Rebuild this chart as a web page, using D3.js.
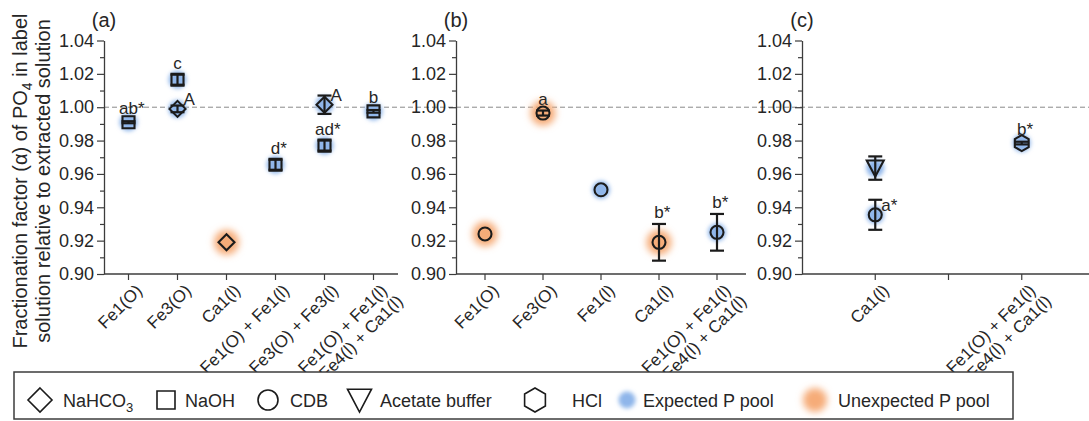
<!DOCTYPE html>
<html>
<head>
<meta charset="utf-8">
<script src="https://cdn.jsdelivr.net/npm/d3@7"></script>
<style>
  body { margin: 0; background: #fff; }
  svg { display: block; font-family: "Liberation Sans", Arial, sans-serif; }
</style>
</head>
<body>
<svg id="chart" width="1089" height="421"></svg>
<script>
// ---- data -------------------------------------------------------------
const yMajorTicks = [0.90, 0.92, 0.94, 0.96, 0.98, 1.00, 1.02, 1.04];
const yMinorTicks = [0.91, 0.93, 0.95, 0.97, 0.99, 1.01, 1.03];

const MIX = "Fe1(O) + Fe1(l)\n+ Fe4(l) + Ca1(l)";
const catsA = ["Fe1(O)", "Fe3(O)", "Ca1(l)", "Fe1(O) + Fe1(l)", "Fe3(O) + Fe3(l)", MIX];
const catsB = ["Fe1(O)", "Fe3(O)", "Fe1(l)", "Ca1(l)", MIX];
const catsC = ["Ca1(l)", "", MIX];

// (a) NaOH and NaHCO3 extractions
const naohA = [
  { cat: "Fe1(O)",          value: 0.991,  err: 0.0006, pool: "expected", label: "ab*" },
  { cat: "Fe3(O)",          value: 1.0165, err: 0.003,  pool: "expected", label: "c" },
  { cat: "Fe1(O) + Fe1(l)", value: 0.9655, err: 0.003,  pool: "expected", label: "d*" },
  { cat: "Fe3(O) + Fe3(l)", value: 0.977,  err: 0.003,  pool: "expected", label: "ad*" },
  { cat: MIX,               value: 0.9975, err: 0.0008, pool: "expected", label: "b" }
];
const nahco3A = [
  { cat: "Fe3(O)",          value: 0.999,  err: 0.002,  pool: "expected",   label: "A" },
  { cat: "Ca1(l)",          value: 0.919,  err: 0,      pool: "unexpected", label: "" },
  { cat: "Fe3(O) + Fe3(l)", value: 1.0015, err: 0.0055, pool: "expected",   label: "A" }
];
// (b) CDB extraction
const cdbB = [
  { cat: "Fe1(O)", value: 0.924,  err: 0,      pool: "unexpected", label: "" },
  { cat: "Fe3(O)", value: 0.9965, err: 0.0015, pool: "unexpected", label: "a" },
  { cat: "Fe1(l)", value: 0.9505, err: 0,      pool: "expected",   label: "" },
  { cat: "Ca1(l)", value: 0.919,  err: 0.011,  pool: "unexpected", label: "b*" },
  { cat: MIX,      value: 0.925,  err: 0.011,  pool: "expected",   label: "b*" }
];
// (c) acetate buffer, CDB and HCl extractions
const acetateC = [
  { cat: "Ca1(l)", value: 0.9635, err: 0.007, pool: "expected", label: "" }
];
const cdbC = [
  { cat: "Ca1(l)", value: 0.9355, err: 0.009, pool: "expected", label: "a*" }
];
const hclC = [
  { cat: MIX, value: 0.9785, err: 0.0008, pool: "expected", label: "b*" }
];

const legendItems = [
  { kind: "NaHCO3", text: "NaHCO", sub: "3" },
  { kind: "NaOH", text: "NaOH" },
  { kind: "CDB", text: "CDB" },
  { kind: "Acetate", text: "Acetate buffer" },
  { kind: "HCl", text: "HCl" },
  { kind: "expected", text: "Expected P pool" },
  { kind: "unexpected", text: "Unexpected P pool" }
];

// ---- setup ------------------------------------------------------------
const svg = d3.select("#chart");
const INK = "#1b1b1b";
const AXIS = "#3c3c3c";
const TEXT = "#262626";
const BLUE = "#8fb6ea";
const ORANGE = "#f6ac78";

const defs = svg.append("defs");
function blurFilter(id, sd) {
  defs.append("filter").attr("id", id)
    .attr("x", "-150%").attr("y", "-150%").attr("width", "400%").attr("height", "400%")
    .append("feGaussianBlur").attr("stdDeviation", sd);
}
blurFilter("glowBlue", 2.2);
blurFilter("glowOrange", 3.8);

const y = d3.scaleLinear().domain([0.90, 1.04]).range([274, 40.5]);
const axisY = y(0.90);

// marker outlines, centred on the origin
const shapes = {
  NaHCO3: r => `M0,${-r}L${r},0L0,${r}L${-r},0Z`,
  NaOH: r => `M${-r},${-r}H${r}V${r}H${-r}Z`,
  CDB: r => `M${-r},0A${r},${r} 0 1,0 ${r},0A${r},${r} 0 1,0 ${-r},0Z`,
  Acetate: r => `M${-r},${-r * 0.9}L${r},${-r * 0.9}L0,${r}Z`,
  HCl: r => {
    const pts = d3.range(6).map(k => {
      const a = (-90 + 60 * k) * Math.PI / 180;
      return [r * Math.cos(a), r * Math.sin(a)];
    });
    return "M" + pts.map(p => p.join(",")).join("L") + "Z";
  }
};
const markerSize = { NaHCO3: 8, NaOH: 6, CDB: 6.5, Acetate: 8.5, HCl: 8 };

// dashed reference at alpha = 1
svg.append("line")
  .attr("x1", 104).attr("x2", 1089)
  .attr("y1", y(1.00)).attr("y2", y(1.00))
  .attr("stroke", "#8a8a8a").attr("stroke-width", 1)
  .attr("stroke-dasharray", "5,3");

const panels = [
  { name: "(a)", cats: catsA, range: [104, 398], pad: 0.5, lineEnd: 398,
    series: [{ method: "NaOH", data: naohA }, { method: "NaHCO3", data: nahco3A }] },
  { name: "(b)", cats: catsB, range: [456, 746], pad: 0.5, lineEnd: 746,
    series: [{ method: "CDB", data: cdbB }] },
  { name: "(c)", cats: catsC, range: [802, 1095], pad: 1, lineEnd: 1089,
    series: [{ method: "Acetate", data: acetateC }, { method: "CDB", data: cdbC }, { method: "HCl", data: hclC }] }
];

panels.forEach(p => {
  const x = d3.scalePoint().domain(p.cats).range(p.range).padding(p.pad);
  const x0 = p.range[0];
  const g = svg.append("g");

  // y axis
  const yAxis = g.append("g").attr("transform", `translate(${x0},0)`)
    .call(d3.axisLeft(y).tickValues(yMajorTicks).tickFormat(d3.format(".2f"))
      .tickSize(7).tickPadding(3).tickSizeOuter(0));
  yAxis.selectAll(".domain").attr("stroke", AXIS).attr("stroke-width", 1.3);
  yAxis.selectAll(".tick line").attr("stroke", AXIS).attr("stroke-width", 1.2);
  yAxis.selectAll(".tick text").attr("fill", TEXT).attr("font-size", 18)
    .attr("font-family", "Liberation Sans, Arial, sans-serif");
  const yMinor = g.append("g").attr("transform", `translate(${x0},0)`)
    .call(d3.axisLeft(y).tickValues(yMinorTicks).tickFormat("").tickSize(4).tickSizeOuter(0));
  yMinor.select(".domain").remove();
  yMinor.selectAll(".tick line").attr("stroke", AXIS).attr("stroke-width", 1.2);

  // x axis line and category ticks
  g.append("line").attr("x1", x0).attr("x2", p.lineEnd)
    .attr("y1", axisY).attr("y2", axisY)
    .attr("stroke", AXIS).attr("stroke-width", 1.3);
  const ticks = g.selectAll(".xtick").data(p.cats).enter().append("g")
    .attr("transform", d => `translate(${x(d)},${axisY})`);
  ticks.append("line").attr("y2", 6).attr("stroke", AXIS).attr("stroke-width", 1.2);

  // rotated category labels, lines centred on each other
  ticks.each(function (d) {
    if (!d) return;
    const lines = d.split("\n");
    const lab = d3.select(this).append("g")
      .attr("transform", "translate(6,9) rotate(-45)");
    const texts = lines.map((s, i) => lab.append("text")
      .attr("text-anchor", "end")
      .attr("font-size", 17).attr("fill", TEXT)
      .attr("dy", (0.72 + i * 1.1) + "em")
      .text(s));
    const widths = texts.map(t => t.node().getComputedTextLength());
    const wMax = d3.max(widths);
    texts.forEach((t, i) => t.attr("x", -(wMax - widths[i]) / 2 + (wMax - widths[0]) / 2));
  });

  // panel letter
  g.append("text").attr("x", x0).attr("y", 27).attr("text-anchor", "middle")
    .attr("font-size", 20).attr("fill", TEXT).text(p.name);

  // glows, error bars, markers, letters
  const catCount = d3.rollup(p.series.flatMap(s => s.data), v => v.length, d => d.cat);
  const seen = new Set();
  p.series.forEach(s => {
    s.data.forEach(d => {
      const cx = x(d.cat), cy = y(d.value);
      d.cx = cx; d.cy = cy;
      const blue = d.pool === "expected";
      g.append("circle").attr("cx", cx).attr("cy", cy)
        .attr("r", blue ? 9 : 12.5)
        .attr("fill", blue ? BLUE : ORANGE)
        .attr("filter", `url(#${blue ? "glowBlue" : "glowOrange"})`);
    });
  });
  p.series.forEach(s => {
    s.data.forEach(d => {
      if (d.err > 0) {
        const yt = y(d.value + d.err), yb = y(d.value - d.err);
        const eb = g.append("g").attr("stroke", INK).attr("stroke-width", 2.2);
        eb.append("line").attr("x1", d.cx).attr("x2", d.cx).attr("y1", yt).attr("y2", yb);
        eb.append("line").attr("x1", d.cx - 7).attr("x2", d.cx + 7).attr("y1", yt).attr("y2", yt);
        eb.append("line").attr("x1", d.cx - 7).attr("x2", d.cx + 7).attr("y1", yb).attr("y2", yb);
      }
      g.append("path")
        .attr("transform", `translate(${d.cx},${d.cy})`)
        .attr("d", shapes[s.method](markerSize[s.method]))
        .attr("fill", "none").attr("stroke", INK).attr("stroke-width", 2.1)
        .attr("stroke-linejoin", "miter");
    });
  });
  p.series.forEach(s => {
    s.data.forEach(d => {
      const shared = catCount.get(d.cat) > 1;
      const beside = shared && seen.has(d.cat);
      seen.add(d.cat);
      if (!d.label) return;
      const letters = d.label.replace("*", "");
      const star = d.label.includes("*");
      const t = g.append("text").attr("font-size", 17).attr("fill", TEXT);
      t.append("tspan").text(letters);
      if (star) t.append("tspan").text("*");
      if (beside) {
        t.attr("x", d.cx + 6).attr("y", d.cy - 4);
      } else {
        const w = t.select("tspan").node().getComputedTextLength();
        const top = Math.min(d.cy - 8, y(d.value + d.err) - 6);
        t.attr("x", d.cx - w / 2).attr("y", top);
      }
    });
  });
});

// axis title
const title = svg.append("text")
  .attr("transform", "translate(27,181) rotate(-90)")
  .attr("text-anchor", "middle").attr("font-size", 20).attr("fill", TEXT);
title.append("tspan").text("Fractionation factor (α) of PO");
title.append("tspan").attr("font-size", 14).attr("dy", 5).text("4");
title.append("tspan").attr("dy", -5).text(" in label");
svg.append("text")
  .attr("transform", "translate(50,181) rotate(-90)")
  .attr("text-anchor", "middle").attr("font-size", 20).attr("fill", TEXT)
  .text("solution relative to extracted solution");

// ---- legend -----------------------------------------------------------
const lg = svg.append("g");
lg.append("rect").attr("x", 14).attr("y", 372).attr("width", 999).attr("height", 47)
  .attr("fill", "#fff").attr("stroke", AXIS).attr("stroke-width", 1.5);
const legendX = { NaHCO3: 40, NaOH: 166, CDB: 268, Acetate: 359.5, HCl: 535, expected: 627, unexpected: 815 };
const legendTextX = { NaHCO3: 63, NaOH: 185, CDB: 290, Acetate: 380, HCl: 572, expected: 643, unexpected: 838 };
const legendSize = { NaHCO3: 12, NaOH: 9, CDB: 10, Acetate: 12, HCl: 12 };
const ly = 400;
legendItems.forEach(it => {
  const cx = legendX[it.kind];
  if (it.kind === "expected" || it.kind === "unexpected") {
    const blue = it.kind === "expected";
    lg.append("circle").attr("cx", cx).attr("cy", ly).attr("r", blue ? 8.5 : 12)
      .attr("fill", blue ? BLUE : ORANGE)
      .attr("filter", `url(#${blue ? "glowBlue" : "glowOrange"})`);
  } else {
    lg.append("path").attr("transform", `translate(${cx},${ly})`)
      .attr("d", shapes[it.kind](legendSize[it.kind]))
      .attr("fill", "none").attr("stroke", INK).attr("stroke-width", 1.6);
  }
  const t = lg.append("text").attr("x", legendTextX[it.kind]).attr("y", ly + 6.5)
    .attr("font-size", 18).attr("fill", TEXT);
  t.append("tspan").text(it.text);
  if (it.sub) t.append("tspan").attr("font-size", 13).attr("dy", 5).text(it.sub);
});
</script>
</body>
</html>
